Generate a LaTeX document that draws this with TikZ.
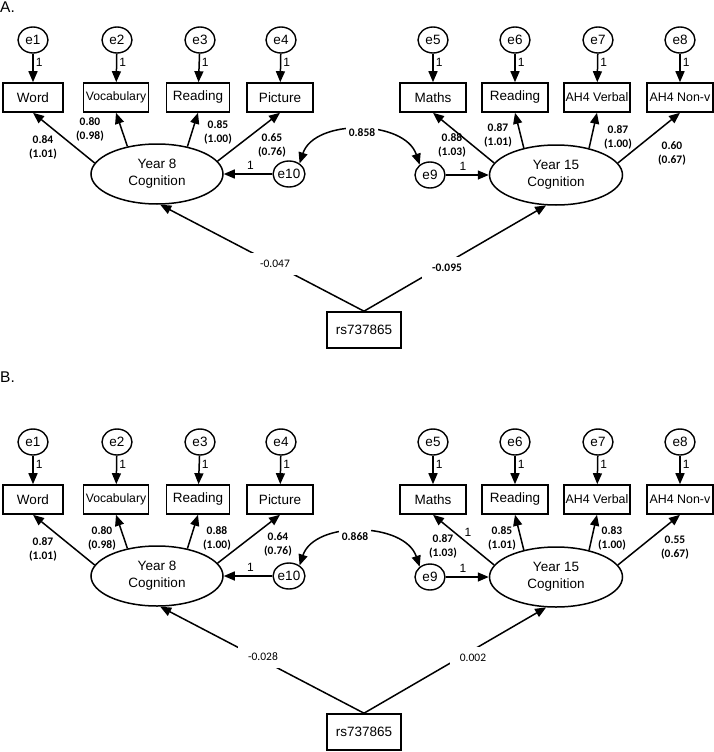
\documentclass[tikz,border=0pt]{standalone}
\usepackage{fontspec}
\setmainfont{Liberation Sans}
\newfontfamily\labfont{Carlito}
\usetikzlibrary{arrows.meta,shapes.geometric}
\tikzset{
  err/.style={draw, ellipse, line width=1.4pt, minimum width=30pt, minimum height=26pt, inner sep=0pt, font=\fontsize{13.5}{14}\selectfont},
  obs/.style={draw, rectangle, line width=1.6pt, minimum height=29pt, inner sep=0pt, font=\fontsize{13.5}{14}\selectfont},
  lat/.style={draw, ellipse, line width=1.5pt, minimum width=132pt, minimum height=60pt, inner sep=0pt, align=center, font=\fontsize{13.5}{17}\selectfont},
  arr/.style={line width=1.5pt, -{Triangle[length=11pt,width=9pt]}},
  covarr/.style={line width=1.5pt, {Triangle[length=11pt,width=9pt]}-{Triangle[length=11pt,width=9pt]}},
  coef/.style={font=\labfont\bfseries\fontsize{11.5}{14}\selectfont, align=center, inner sep=0pt},
  coefr/.style={font=\labfont\fontsize{11.5}{14}\selectfont, align=center, inner sep=0pt},
  one/.style={font=\fontsize{12}{12}\selectfont, inner sep=0pt},
  gap/.style={fill=white, inner xsep=10pt, inner ysep=7pt},
  covgap/.style={fill=white, inner xsep=3pt, inner ysep=5pt},
  panellab/.style={font=\fontsize{15.5}{16}\selectfont, anchor=west, inner sep=0pt},
}
\newcommand\sempanel[1]{%
  % error terms
  \node[err] (#1e1) at (33,40) {e1};
  \node[err] (#1e2) at (117,40) {e2};
  \node[err] (#1e3) at (200,40) {e3};
  \node[err] (#1e4) at (281,40) {e4};
  \node[err] (#1e5) at (433,40) {e5};
  \node[err] (#1e6) at (515,40) {e6};
  \node[err] (#1e7) at (598,40) {e7};
  \node[err] (#1e8) at (680,40) {e8};
  % observed
  \node[obs, minimum width=60pt] (#1b1) at (33,97.5) {Word};
  \node[obs, minimum width=65pt, font=\fontsize{12.2}{14}\selectfont] (#1b2) at (116,97.5) {Vocabulary};
  \node[obs, minimum width=63pt] (#1b3) at (198,97.5) {Reading};
  \node[obs, minimum width=66pt] (#1b4) at (280,97.5) {Picture};
  \node[obs, minimum width=66pt] (#1b5) at (433,97.5) {Maths};
  \node[obs, minimum width=66pt] (#1b6) at (515,97.5) {Reading};
  \node[obs, minimum width=66pt, font=\fontsize{12.4}{14}\selectfont] (#1b7) at (597,97.5) {AH4 Verbal};
  \node[obs, minimum width=66pt, font=\fontsize{12.4}{14}\selectfont] (#1b8) at (680,97.5) {AH4 Non-v};
  % latents
  \node[lat] (#1y8) at (157,174) {Year 8\\Cognition};
  \node[lat, minimum width=133pt] (#1y15) at (556,175) {Year 15\\Cognition};
  \node[err] (#1e10) at (289,174) {e10};
  \node[err] (#1e9) at (430,175) {e9};
  \node[obs, minimum width=74pt, minimum height=36pt] (#1rs) at (364,330) {rs737865};
  % error arrows
  \foreach \i in {1,...,8}{
    \draw[arr] (#1e\i) -- node[one, pos=0.3, right=2pt]{1} (#1b\i);
  }
  % loadings
  \draw[arr] (#1y8.170) -- (#1b1.south);
  \draw[arr] (#1y8.137) -- (#1b2.south);
  \draw[arr] (#1y8.42) -- (#1b3.south);
  \draw[arr] (#1y8.12) -- (#1b4.south);
  \draw[arr] (#1y15.169) -- (#1b5.south);
  \draw[arr] (#1y15.140) -- (#1b6.south);
  \draw[arr] (#1y15.39) -- (#1b7.south);
  \draw[arr] (#1y15.11) -- (#1b8.south);
  % disturbances
  \draw[arr] (#1e10) -- node[one, above=4pt, pos=0.45]{1} (#1y8);
  \draw[arr] (#1e9) -- node[one, above=4pt, pos=0.4]{1} (#1y15);
  % covariance
  \draw[covarr] (#1e10.45) .. controls +(15,-45) and +(-15,-45) .. (#1e9.135);
  % genetic paths
  \draw[arr] (#1rs.north) -- (#1y8.-84);
  \draw[arr] (#1rs.north) -- (#1y15.-108);
}
\begin{document}
\begin{tikzpicture}[x=1pt,y=-1pt]
  \fill[white] (0,0) rectangle (714,752);
  \useasboundingbox (0,0) rectangle (714,752);
  % ---------- Panel A ----------
  \node[panellab] (tA) at (0,7.5) {A.};
  \sempanel{a}
  \node[coef] (aw) at (43,147) {0.84\\(1.01)};
  \node[coef] (av) at (90,129.5) {0.80\\(0.98)};
  \node[coef] (ar) at (218,132) {0.85\\(1.00)};
  \node[coef] (ap) at (272,145) {0.65\\(0.76)};
  \node[coef] (am) at (452,145.5) {0.88\\(1.03)};
  \node[coef] (ar2) at (498,135) {0.87\\(1.01)};
  \node[coef] (avb) at (618,137) {0.87\\(1.00)};
  \node[coef] (anv) at (672,153) {0.60\\(0.67)};
  \node[coef, covgap] (acov) at (362,133) {0.858};
  \node[coefr, gap] (ag8) at (275,264) {-0.047};
  \node[coef, gap] (ag15) at (447,268) {-0.095};
  % ---------- Panel B ----------
  \node[panellab] (tB) at (0,377.5) {B.};
  \begin{scope}[yshift=-402pt]
    \sempanel{b}
  \end{scope}
  \node[coef] (bw) at (43,549.5) {0.87\\(1.01)};
  \node[coef] (bv) at (102,538) {0.80\\(0.98)};
  \node[coef] (br) at (217,538) {0.88\\(1.00)};
  \node[coef] (bp) at (278,544) {0.64\\(0.76)};
  \node[one] (bone) at (468,532) {1};
  \node[coef] (bm) at (443,546.5) {0.87\\(1.03)};
  \node[coef] (br2) at (502,538) {0.85\\(1.01)};
  \node[coef] (bvb) at (612,538) {0.83\\(1.00)};
  \node[coef] (bnv) at (675,548) {0.55\\(0.67)};
  \node[coef, covgap] (bcov) at (355,537) {0.868};
  \node[coefr, gap] (bg8) at (263,657) {-0.028};
  \node[coefr, gap] (bg15) at (473,658) {0.002};
\end{tikzpicture}
\end{document}
